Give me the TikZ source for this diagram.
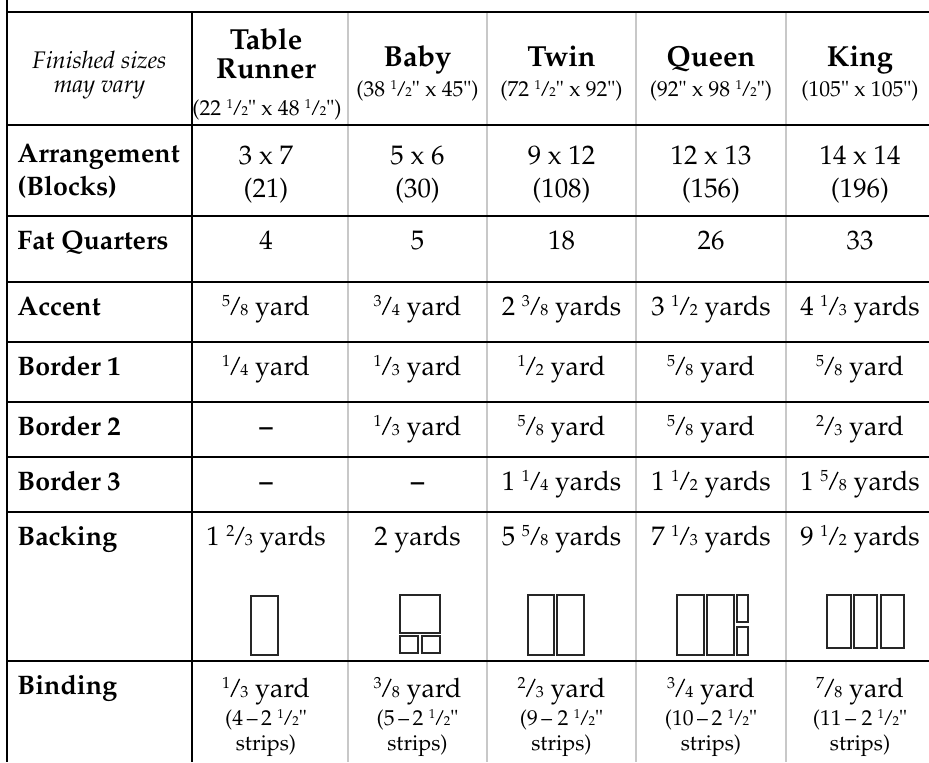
\documentclass[tikz,border=0pt]{standalone}
\usepackage[T1]{fontenc}
\usepackage{mathpazo}
\usepackage{graphicx}
\definecolor{gridgray}{RGB}{200,200,200}
\makeatletter
\newcommand\fsz[1]{\dimen@=\f@size\p@\dimen@=#1\dimen@\fontsize{\strip@pt\dimen@}{\z@}\selectfont}
\newcommand\frc[2]{\raisebox{.3em}{\fsz{.6}#1}\kern.01em\rotatebox{64}{\rule{.74em}{.05em}}\kern.01em{\fsz{.6}#2}}
\makeatother
\tikzset{
  blackline/.style={line width=1.4pt},
  gridline/.style={line width=1pt,draw=gridgray},
  sketch/.style={line width=1pt,draw=black!85},
  cell/.style={anchor=base,inner sep=0pt,font=\fontsize{13.4}{16}\selectfont},
  rowlabel/.style={anchor=base west,inner sep=0pt,font=\fontsize{13.4}{16}\selectfont\bfseries},
  colhead/.style={anchor=base,inner sep=0pt,font=\fontsize{14.5}{17}\selectfont\bfseries},
  note/.style={anchor=base,inner sep=0pt,font=\fontsize{10.8}{13}\selectfont},
  italnote/.style={note,font=\fontsize{12}{14}\selectfont\itshape}
}
\begin{document}
\begin{tikzpicture}[x=0.5pt,y=-0.5pt]
  \useasboundingbox (0,0) rectangle (929,762);
  % grey column rules
  \draw[gridline] (348,12) -- (348,762);
  \draw[gridline] (487,12) -- (487,762);
  \draw[gridline] (636,12) -- (636,762);
  \draw[gridline] (786,12) -- (786,762);
  % row rules
  \draw[blackline] (7,12) -- (929,12);% top
  \draw[blackline] (7,125) -- (929,125);% under header
  \draw[blackline] (7,216) -- (929,216);
  \draw[blackline] (7,282) -- (929,282);
  \draw[blackline] (7,342) -- (929,342);
  \draw[blackline] (7,402) -- (929,402);
  \draw[blackline] (7,457) -- (929,457);
  \draw[blackline] (7,512) -- (929,512);
  \draw[blackline] (7,661) -- (929,661);
  % black column rules
  \draw[blackline] (7,0) -- (7,762);% left edge
  \draw[blackline] (192,12) -- (192,762);
  % header
  \node[italnote] (finA) at (99.5,68) {Finished sizes};
  \node[italnote] (finB) at (99.5,92) {may vary};
  \node[colhead] (runnerA) at (266,49) {Table};
  \node[colhead] (runnerB) at (266,78) {Runner};
  \node[note] (runnerS) at (267,115) {(22 \frc12" x 48 \frc12")};
  \node[colhead] (baby) at (417.5,66) {Baby};
  \node[note] (babyS) at (417.5,96) {(38 \frc12" x 45")};
  \node[colhead] (twin) at (561.5,66) {Twin};
  \node[note] (twinS) at (561.5,96) {(72 \frc12" x 92")};
  \node[colhead] (queen) at (711,66) {Queen};
  \node[note] (queenS) at (711,96) {(92" x 98 \frc12")};
  \node[colhead] (king) at (860,66) {King};
  \node[note] (kingS) at (860,96) {(105" x 105")};
  % arrangement
  \node[rowlabel] (arrA) at (17,162) {Arrangement};
  \node[rowlabel] (arrB) at (17,195) {(Blocks)};
  \node[cell] (arr1) at (266,164) {3 x 7};
  \node[cell] (arr1n) at (266,197) {(21)};
  \node[cell] (arr2) at (417.5,164) {5 x 6};
  \node[cell] (arr2n) at (417.5,197) {(30)};
  \node[cell] (arr3) at (561.5,164) {9 x 12};
  \node[cell] (arr3n) at (561.5,197) {(108)};
  \node[cell] (arr4) at (711,164) {12 x 13};
  \node[cell] (arr4n) at (711,197) {(156)};
  \node[cell] (arr5) at (860,164) {14 x 14};
  \node[cell] (arr5n) at (860,197) {(196)};
  % fat quarters
  \node[rowlabel] (fat) at (17,249) {Fat Quarters};
  \node[cell] (fat1) at (266,249) {4};
  \node[cell] (fat2) at (417.5,249) {5};
  \node[cell] (fat3) at (561.5,249) {18};
  \node[cell] (fat4) at (711,249) {26};
  \node[cell] (fat5) at (860,249) {33};
  % accent
  \node[rowlabel] (acc) at (17,315) {Accent};
  \node[cell] (acc1) at (266,315) {\frc58 yard};
  \node[cell] (acc2) at (417.5,315) {\frc34 yard};
  \node[cell] (acc3) at (561.5,315) {2 \frc38 yards};
  \node[cell] (acc4) at (711,315) {3 \frc12 yards};
  \node[cell] (acc5) at (860,315) {4 \frc13 yards};
  % borders
  \node[rowlabel] (bdA) at (17,375) {Border 1};
  \node[cell] (bdA1) at (266,375) {\frc14 yard};
  \node[cell] (bdA2) at (417.5,375) {\frc13 yard};
  \node[cell] (bdA3) at (561.5,375) {\frc12 yard};
  \node[cell] (bdA4) at (711,375) {\frc58 yard};
  \node[cell] (bdA5) at (860,375) {\frc58 yard};
  \node[rowlabel] (bdB) at (17,435) {Border 2};
  \node[cell] (bdB1) at (266,435) {\textbf{--}};
  \node[cell] (bdB2) at (417.5,435) {\frc13 yard};
  \node[cell] (bdB3) at (561.5,435) {\frc58 yard};
  \node[cell] (bdB4) at (711,435) {\frc58 yard};
  \node[cell] (bdB5) at (860,435) {\frc23 yard};
  \node[rowlabel] (bdC) at (17,490) {Border 3};
  \node[cell] (bdC1) at (266,490) {\textbf{--}};
  \node[cell] (bdC2) at (417.5,490) {\textbf{--}};
  \node[cell] (bdC3) at (561.5,490) {1 \frc14 yards};
  \node[cell] (bdC4) at (711,490) {1 \frc12 yards};
  \node[cell] (bdC5) at (860,490) {1 \frc58 yards};
  % backing
  \node[rowlabel] (back) at (17,545) {Backing};
  \node[cell] (back1) at (266,545) {1 \frc23 yards};
  \node[cell] (back2) at (417.5,545) {2 yards};
  \node[cell] (back3) at (561.5,545) {5 \frc58 yards};
  \node[cell] (back4) at (711,545) {7 \frc13 yards};
  \node[cell] (back5) at (860,545) {9 \frc12 yards};
  % backing layouts
  \draw[sketch] (250.5,595.5) rectangle (277.5,655);
  \draw[sketch] (400.3,595.3) rectangle (439.7,632.7);
  \draw[sketch] (400.3,636) rectangle (418,653);
  \draw[sketch] (421.7,636) rectangle (439.7,653);
  \draw[sketch] (527.7,595.3) rectangle (554,654.7);
  \draw[sketch] (557,595.3) rectangle (584,654.7);
  \draw[sketch] (677,595.3) rectangle (704.3,654.7);
  \draw[sketch] (707,595.3) rectangle (734,654.7);
  \draw[sketch] (737,595.3) rectangle (748.3,622.3);
  \draw[sketch] (737,627) rectangle (748.3,654.7);
  \draw[sketch] (827,595.3) rectangle (850.7,648.3);
  \draw[sketch] (854.3,595.3) rectangle (877.3,648.3);
  \draw[sketch] (881,595.3) rectangle (904,648.3);
  % binding
  \node[rowlabel] (bind) at (17,694) {Binding};
  \node[cell] (bind1) at (266,697) {\frc13 yard};
  \node[note] (bind1s) at (266,725) {(4\,--\,2 \frc12"};
  \node[note] (bind1t) at (266,750) {strips)};
  \node[cell] (bind2) at (417.5,697) {\frc38 yard};
  \node[note] (bind2s) at (417.5,725) {(5\,--\,2 \frc12"};
  \node[note] (bind2t) at (417.5,750) {strips)};
  \node[cell] (bind3) at (561.5,697) {\frc23 yard};
  \node[note] (bind3s) at (561.5,725) {(9\,-- 2 \frc12"};
  \node[note] (bind3t) at (561.5,750) {strips)};
  \node[cell] (bind4) at (711,697) {\frc34 yard};
  \node[note] (bind4s) at (711,725) {(10\,--\,2 \frc12"};
  \node[note] (bind4t) at (711,750) {strips)};
  \node[cell] (bind5) at (860,697) {\frc78 yard};
  \node[note] (bind5s) at (860,725) {(11\,-- 2 \frc12"};
  \node[note] (bind5t) at (860,750) {strips)};
\end{tikzpicture}
\end{document}
